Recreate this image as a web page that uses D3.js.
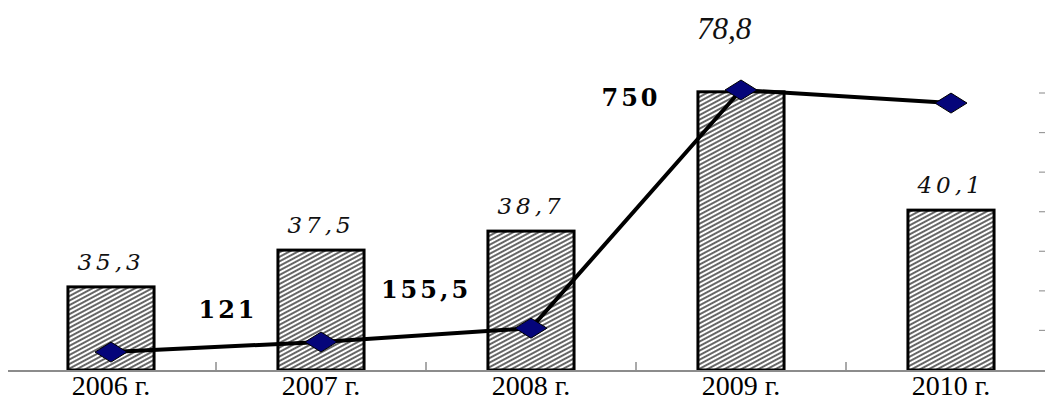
<!DOCTYPE html>
<html>
<head>
<meta charset="utf-8">
<script src="https://cdn.jsdelivr.net/npm/d3@7/dist/d3.min.js"></script>
<style>
  html, body { margin: 0; padding: 0; background: #fff; }
  svg { display: block; }
</style>
</head>
<body>
<svg id="chart" width="1045" height="400"></svg>
<script>
// ---- data ----
const categories = ["2006 г.", "2007 г.", "2008 г.", "2009 г.", "2010 г."];
// bar heights (primary axis units)
const barValues = [21.0, 30.3, 35.1, 70.3, 40.4];
// labels printed above the bars
const barLabels = ["35,3", "37,5", "38,7", "78,8", "40,1"];
// line series (secondary axis units)
const lineValues = [48, 75, 112, 750, 715];
// labels printed next to line points ("" = none)
const lineLabels = ["", "121", "155,5", "750", ""];
// right-hand axis ticks (primary units)
const rightTicks = [10, 20, 30, 40, 50, 60, 70];

// ---- layout ----
const svg = d3.select("#chart");
const baseY = 370;

const x = d3.scaleBand()
  .domain(categories)
  .range([6, 1056])
  .paddingInner(0.59)
  .paddingOuter(0.295);
const step = x.step();

const y = d3.scaleLinear().domain([0, 70]).range([baseY, 93]);
const y2 = d3.scaleLinear().domain([0, 750]).range([baseY, 90]);

// hatch pattern
const defs = svg.append("defs");
const pat = defs.append("pattern")
  .attr("id", "hatch")
  .attr("patternUnits", "userSpaceOnUse")
  .attr("width", 12).attr("height", 4)
  .attr("patternTransform", "rotate(-28)");
pat.append("rect").attr("width", 12).attr("height", 4).attr("fill", "#fff");
pat.append("line").attr("x1", 0).attr("x2", 12).attr("y1", 2).attr("y2", 2)
  .attr("stroke", "#000").attr("stroke-width", 1.2);

// bars
svg.append("g").selectAll("rect")
  .data(categories)
  .join("rect")
  .attr("x", d => x(d))
  .attr("y", (d, i) => y(barValues[i]))
  .attr("width", x.bandwidth())
  .attr("height", (d, i) => baseY - y(barValues[i]))
  .attr("fill", "url(#hatch)")
  .attr("stroke", "#000")
  .attr("stroke-width", 3);

// x axis
const xAxis = d3.axisBottom(x).tickSize(0).tickPadding(0).tickFormat(d => d);
const gx = svg.append("g").attr("transform", `translate(0,${baseY})`).call(xAxis);
gx.select(".domain").remove();
gx.selectAll("text")
  .attr("font-family", "'Liberation Serif', 'Times New Roman', serif")
  .attr("font-size", 28)
  .attr("fill", "#000")
  .attr("y", 25)
  .attr("dy", 0);
svg.append("line")
  .attr("x1", 8).attr("x2", 1045)
  .attr("y1", baseY + 1).attr("y2", baseY + 1)
  .attr("stroke", "#8c8c8c").attr("stroke-width", 2);
// boundary ticks between categories
svg.append("g").selectAll("line")
  .data(categories.slice(1))
  .join("line")
  .attr("x1", d => x(d) - step * 0.295)
  .attr("x2", d => x(d) - step * 0.295)
  .attr("y1", baseY - 8).attr("y2", baseY)
  .attr("stroke", "#555").attr("stroke-width", 1);

// right-side tiny ticks
svg.append("g").selectAll("line")
  .data(rightTicks)
  .join("line")
  .attr("x1", 1039).attr("x2", 1045)
  .attr("y1", d => y(d)).attr("y2", d => y(d))
  .attr("stroke", "#9a9a9a").attr("stroke-width", 1.2);

// bar labels
const italicFont = "'DejaVu Serif', serif";
svg.append("g").selectAll("text")
  .data(categories)
  .join("text")
  .attr("x", (d, i) => x(d) + x.bandwidth() / 2 + (i === 3 ? -17 : 0))
  .attr("y", (d, i) => i === 3 ? 39 : y(barValues[i]) - 17)
  .attr("text-anchor", "middle")
  .attr("font-family", (d, i) => i === 3 ? "'Liberation Serif', serif" : italicFont)
  .attr("font-style", "italic")
  .attr("font-size", (d, i) => i === 3 ? 31 : 23)
  .attr("letter-spacing", (d, i) => i === 3 ? 0 : 4)
  .attr("fill", "#111")
  .text((d, i) => barLabels[i]);

// line
const pts = categories.map((d, i) => [x(d) + x.bandwidth() / 2, y2(lineValues[i])]);
svg.append("path")
  .attr("d", d3.line()(pts))
  .attr("fill", "none")
  .attr("stroke", "#000")
  .attr("stroke-width", 4)
  .attr("stroke-linejoin", "round");

// diamond markers
svg.append("g").selectAll("path")
  .data(pts)
  .join("path")
  .attr("d", p => `M${p[0] - 16},${p[1]} L${p[0]},${p[1] - 10} L${p[0] + 16},${p[1]} L${p[0]},${p[1] + 10} Z`)
  .attr("fill", "#05057a")
  .attr("stroke", "#000")
  .attr("stroke-width", 1);

// line labels (placed near the left boundary of the category)
const lineLabelDY = [0, -24, -30, 16, 0];
const lineLabelDX = [0, 12, 0, -5, 0];
svg.append("g").selectAll("text")
  .data(categories)
  .join("text")
  .filter((d, i) => lineLabels[i] !== "")
  .attr("x", d => {
    const i = categories.indexOf(d);
    return x(d) - step * 0.295 + lineLabelDX[i];
  })
  .attr("y", d => {
    const i = categories.indexOf(d);
    return y2(lineValues[i]) + lineLabelDY[i];
  })
  .attr("text-anchor", "middle")
  .attr("font-family", "'DejaVu Serif', serif")
  .attr("font-weight", "bold")
  .attr("font-size", 24)
  .attr("letter-spacing", 3)
  .attr("fill", "#000")
  .text(d => lineLabels[categories.indexOf(d)]);
</script>
</body>
</html>
